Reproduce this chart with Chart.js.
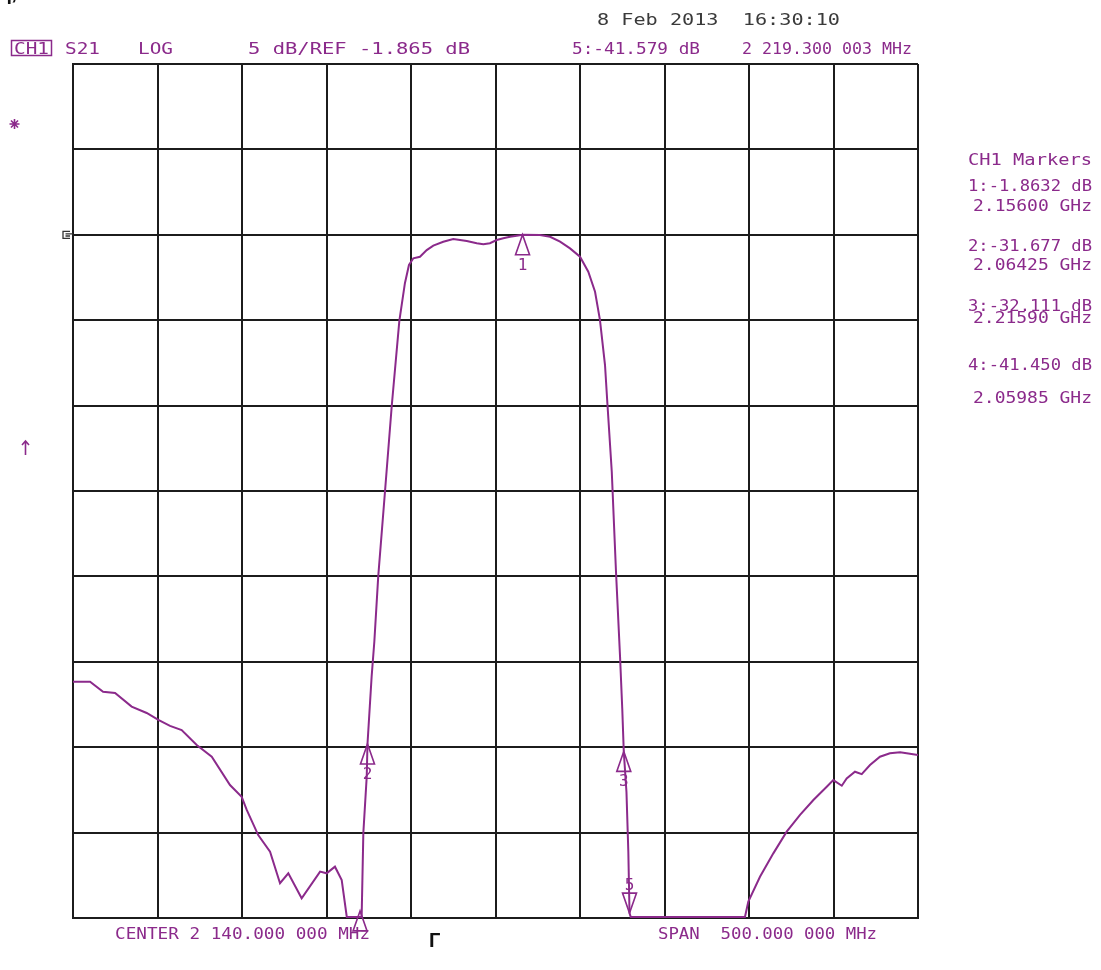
<!DOCTYPE html>
<html>
<head>
<meta charset="utf-8">
<script src="https://cdn.jsdelivr.net/npm/chart.js@4.4.1/dist/chart.umd.min.js"></script>
<style>
body { margin: 0; background: #fff; }
#wrap { width: 1101px; height: 970px; }
</style>
</head>
<body>
<div id="wrap"><canvas id="s21Chart" width="1101" height="970"></canvas></div>
<script>
// S21 trace (MHz / dB)
var freqs = [1890.0, 1900.1, 1907.8, 1914.9, 1924.7, 1933.6, 1940.5, 1947.4, 1954.3, 1963.2,
    1972.1, 1982.9, 1989.8, 1992.8, 1999.6, 2006.6, 2012.5, 2017.4, 2025.3, 2036.2,
    2040.1, 2045.0, 2049.0, 2052.0, 2057.9, 2060.8, 2061.8, 2063.8, 2064.25, 2066.7,
    2068.3, 2070.6, 2074.6, 2078.6, 2083.1, 2086.4, 2088.8, 2091.4, 2095.3, 2099.3,
    2103.2, 2109.1, 2115.0, 2119.0, 2123.0, 2128.9, 2132.8, 2136.7, 2140.7, 2144.6,
    2148.6, 2152.5, 2156.0, 2166.3, 2172.3, 2178.2, 2184.1, 2190.0, 2194.9, 2198.9,
    2201.8, 2204.8, 2206.2, 2208.8, 2211.3, 2213.7, 2215.0, 2215.9, 2217.5, 2218.6,
    2219.3, 2220.0, 2287.6, 2289.6, 2296.5, 2304.4, 2312.3, 2320.2, 2328.1, 2336.0,
    2339.9, 2344.9, 2347.8, 2352.7, 2356.7, 2361.6, 2367.5, 2373.4, 2379.4, 2383.3, 2390.0];
var levels = [-28.03, -28.03, -28.62, -28.69, -29.49, -29.86, -30.27, -30.62, -30.86, -31.74,
    -32.42, -34.08, -34.77, -35.54, -37.01, -37.98, -39.83, -39.25, -40.71, -39.15,
    -39.25, -38.86, -39.64, -41.8, -41.8, -41.8, -36.89, -33.59, -31.68, -27.74,
    -25.69, -21.88, -16.91, -11.89, -6.91, -4.70, -3.63, -3.24, -3.15, -2.76,
    -2.50, -2.27, -2.11, -2.17, -2.23, -2.36, -2.42, -2.36, -2.17, -2.07,
    -1.98, -1.92, -1.86, -1.88, -1.98, -2.27, -2.66, -3.15, -4.03, -5.20,
    -6.85, -9.49, -11.73, -15.74, -21.59, -26.57, -29.6, -32.11, -34.5, -38.0,
    -41.58, -41.8, -41.8, -40.91, -39.45, -38.08, -36.81, -35.83, -34.96, -34.18,
    -33.79, -34.12, -33.69, -33.30, -33.44, -32.91, -32.42, -32.22, -32.16, -32.22, -32.32];

// grid: 50 MHz/div around 2140 MHz, 5 dB/div around REF -1.865 dB
var freqTicks = [1890, 1940, 1990, 2040, 2090, 2140, 2190, 2240, 2290, 2340, 2390];
var dbTicks = [-41.865, -36.865, -31.865, -26.865, -21.865, -16.865, -11.865, -6.865, -1.865, 3.135, 8.135];
var refLevel = -1.865;

// markers
var markerNames = ["1", "2", "3", "4", "5"];
var markerFreqs = [2156.0, 2064.25, 2215.9, 2059.85, 2219.3];
var markerLevels = [-1.8632, -31.677, -32.111, -41.450, -41.579];

// screen texts
var headLeft = ["S21", "LOG", "5 dB/REF -1.865 dB"];
var headRight = ["5:-41.579 dB", "2 219.300 003 MHz"];
var sideList = ["CH1 Markers", "1:-1.8632 dB", "2.15600 GHz", "2:-31.677 dB", "2.06425 GHz",
    "3:-32.111 dB", "2.21590 GHz", "4:-41.450 dB", "2.05985 GHz"];
var footTexts = ["CENTER 2 140.000 000 MHz", "SPAN  500.000 000 MHz"];
var stamp = "8 Feb 2013  16:30:10";

var purple = '#8b2a8b';
var gridColor = '#1c1c1c';
var mono = '"DejaVu Sans Mono", monospace';

function fitText(ctx, text, x, y, width, color, font) {
    ctx.font = font || ('16px ' + mono);
    ctx.fillStyle = color;
    ctx.textBaseline = 'alphabetic';
    ctx.textAlign = 'left';
    var w = ctx.measureText(text).width;
    ctx.save();
    ctx.translate(x, y);
    ctx.scale(width / w, 1);
    ctx.fillText(text, 0, 0);
    ctx.restore();
}

var screenPlugin = {
    id: 'screen',
    afterDraw: function (chart) {
        var ctx = chart.ctx;
        var xs = chart.scales.x, ys = chart.scales.y;
        ctx.save();

        // markers
        ctx.strokeStyle = purple;
        ctx.lineWidth = 1.6;
        for (var i = 0; i < markerNames.length; i++) {
            var px = xs.getPixelForValue(markerFreqs[i]);
            var py = ys.getPixelForValue(markerLevels[i]);
            var down = markerNames[i] == "5";
            var dir = down ? -1 : 1;
            ctx.beginPath();
            ctx.moveTo(px, py);
            ctx.lineTo(px - 7, py + dir * 20);
            ctx.lineTo(px + 7, py + dir * 20);
            ctx.closePath();
            ctx.stroke();
            if (markerNames[i] != "4") {
                ctx.font = '16px ' + mono;
                ctx.fillStyle = purple;
                ctx.textAlign = 'center';
                ctx.textBaseline = 'alphabetic';
                ctx.fillText(markerNames[i], px, down ? py - 23 : py + 35);
            }
        }

        // reference level flag on the left edge
        var ry = ys.getPixelForValue(refLevel);
        ctx.strokeStyle = '#333';
        ctx.lineWidth = 1.3;
        ctx.beginPath();
        ctx.moveTo(70, ry - 3.5);
        ctx.lineTo(63, ry - 3.5);
        ctx.lineTo(63, ry + 3.5);
        ctx.lineTo(70, ry + 3.5);
        ctx.moveTo(65.5, ry - 1);
        ctx.lineTo(xs.left, ry - 1);
        ctx.moveTo(65.5, ry + 1.2);
        ctx.lineTo(70, ry + 1.2);
        ctx.stroke();

        // header
        fitText(ctx, stamp, 597, 25, 243, '#3a3a3a');
        ctx.strokeStyle = purple;
        ctx.lineWidth = 1.5;
        ctx.strokeRect(11.5, 40.5, 40, 15);
        fitText(ctx, "CH1", 14, 54, 35, purple);
        fitText(ctx, headLeft[0], 65, 54, 35, purple);
        fitText(ctx, headLeft[1], 138, 54, 35, purple);
        fitText(ctx, headLeft[2], 248, 54, 222, purple);
        fitText(ctx, headRight[0], 572, 54, 128, purple);
        fitText(ctx, headRight[1], 742, 54, 170, purple);

        // marker list on the right
        var sideY = [165, 191, 211, 251, 270, 311, 323, 370, 403];
        for (var k = 0; k < sideList.length; k++) {
            var isFreq = sideList[k].indexOf("GHz") > 0;
            fitText(ctx, sideList[k], isFreq ? 973 : 968, sideY[k], isFreq ? 119 : 124, purple);
        }

        // footer
        fitText(ctx, footTexts[0], 115, 939, 255, purple);
        fitText(ctx, footTexts[1], 658, 939, 219, purple);

        // side symbols
        ctx.strokeStyle = purple;
        ctx.lineWidth = 1.6;
        ctx.beginPath();
        for (var a = 0; a < 4; a++) {
            var ang = a * Math.PI / 4;
            ctx.moveTo(14.5 - 5 * Math.cos(ang), 124 - 5 * Math.sin(ang));
            ctx.lineTo(14.5 + 5 * Math.cos(ang), 124 + 5 * Math.sin(ang));
        }
        ctx.moveTo(25.5, 455);
        ctx.lineTo(25.5, 441);
        ctx.moveTo(22, 445);
        ctx.lineTo(25.5, 441);
        ctx.lineTo(29, 445);
        ctx.stroke();

        // figure captions, partly cut off in the scan
        ctx.fillStyle = '#111';
        ctx.font = 'bold 22px "Liberation Sans", sans-serif';
        ctx.textAlign = 'left';
        ctx.fillText("д, а", -3, -1);
        ctx.font = 'bold 20px "Liberation Sans", sans-serif';
        ctx.fillText("Г", 429, 947);
        ctx.restore();
    }
};

var s21 = document.getElementById("s21Chart");
var s21Chart = new Chart(s21, {
    type: 'line',
    data: {
        datasets: [{
            label: 'S21',
            data: freqs.map(function (f, i) { return { x: f, y: levels[i] }; }),
            borderColor: purple,
            borderWidth: 2,
            pointRadius: 0,
            fill: false,
            tension: 0
        }]
    },
    options: {
        responsive: false,
        animation: false,
        layout: { padding: { left: 73, top: 64, right: 183, bottom: 52 } },
        plugins: { legend: { display: false }, tooltip: { enabled: false } },
        scales: {
            x: {
                type: 'linear',
                min: 1890,
                max: 2390,
                afterBuildTicks: function (scale) {
                    scale.ticks = freqTicks.map(function (v) { return { value: v }; });
                },
                ticks: { display: false },
                grid: { color: gridColor, lineWidth: 2, drawTicks: false },
                border: { color: gridColor, width: 2 }
            },
            y: {
                type: 'linear',
                min: -41.865,
                max: 8.135,
                afterBuildTicks: function (scale) {
                    scale.ticks = dbTicks.map(function (v) { return { value: v }; });
                },
                ticks: { display: false },
                grid: { color: gridColor, lineWidth: 2, drawTicks: false },
                border: { color: gridColor, width: 2 }
            }
        }
    },
    plugins: [screenPlugin]
});
</script>
</body>
</html>
